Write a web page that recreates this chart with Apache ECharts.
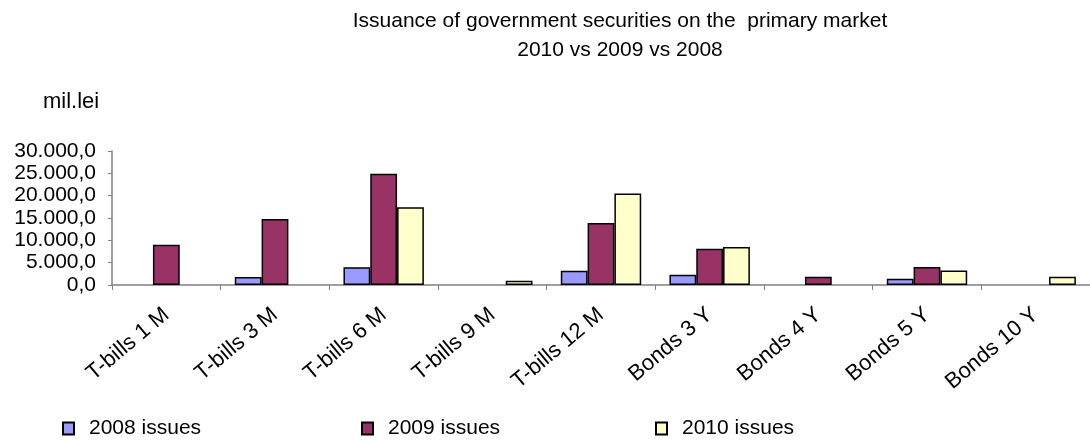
<!DOCTYPE html>
<html>
<head>
<meta charset="utf-8">
<script src="https://cdn.jsdelivr.net/npm/echarts@6/dist/echarts.min.js"></script>
<style>
  html, body { margin: 0; padding: 0; background: #fff; }
  #chart { width: 1090px; height: 441px; }
</style>
</head>
<body>
<div id="chart"></div>
<script>
var categories = ['T-bills 1 M', 'T-bills 3 M', 'T-bills 6 M', 'T-bills 9 M', 'T-bills 12 M',
                  'Bonds 3 Y', 'Bonds 4 Y', 'Bonds 5 Y', 'Bonds 10 Y'];
var issues2008 = [null, 1800, 4000, null, 3200, 2300, null, 1400, null];
var issues2009 = [9000, 14800, 24900, null, 13900, 8100, 1850, 4050, null];
var issues2010 = [null, null, 17400, 950, 20500, 8500, null, 3250, 1850];
var seriesNames = ['2008 issues', '2009 issues', '2010 issues'];
var seriesColors = ['#9999FF', '#993366', '#FFFFCC'];

var FONT = '"Liberation Sans", Arial, sans-serif';

// 30000 -> "30.000,0"
function roFormat(v) {
  var s = String(Math.round(v)).replace(/\B(?=(\d{3})+(?!\d))/g, '.');
  return s + ',0';
}

var chart = echarts.init(document.getElementById('chart'));

function barSeries(i, data) {
  return {
    name: seriesNames[i],
    type: 'bar',
    data: data,
    barGap: 0,
    barCategoryGap: '26%',
    itemStyle: {
      color: seriesColors[i],
      borderColor: '#000',
      borderWidth: 1.5
    }
  };
}

function legendAt(i, left) {
  return {
    data: [seriesNames[i]],
    left: left,
    top: 418,
    icon: 'rect',
    itemWidth: 11,
    itemHeight: 12,
    padding: 0,
    textStyle: { fontFamily: FONT, fontSize: 21, color: '#000', padding: [0, 0, 0, 10] }
  };
}

var option = {
  animation: false,
  backgroundColor: '#fff',
  title: [{
    text: 'Issuance of government securities on the  primary market\n2010 vs 2009 vs 2008',
    left: 615,
    top: 2,
    textAlign: 'center',
    textStyle: { fontFamily: FONT, fontSize: 21, fontWeight: 'normal', color: '#000', lineHeight: 29 }
  }, {
    text: 'mil.lei',
    left: 38,
    top: 86,
    textStyle: { fontFamily: FONT, fontSize: 22, fontWeight: 'normal', color: '#000' }
  }],
  legend: [legendAt(0, 62), legendAt(1, 361), legendAt(2, 655)],
  grid: { left: 112, right: -3, top: 151, bottom: 156, containLabel: false },
  xAxis: {
    type: 'category',
    data: categories,
    axisLine: { lineStyle: { color: '#808080', width: 1.5 } },
    axisTick: { show: true, length: 5, lineStyle: { color: '#808080' } },
    axisLabel: {
      interval: 0,
      rotate: 40,
      margin: 27,
      fontFamily: FONT,
      fontSize: 22,
      color: '#000'
    }
  },
  yAxis: {
    type: 'value',
    min: 0,
    max: 30000,
    interval: 5000,
    axisLine: { show: true, lineStyle: { color: '#808080', width: 1.5 } },
    axisTick: { show: true, length: 4, lineStyle: { color: '#808080' } },
    splitLine: { show: false },
    axisLabel: {
      margin: 16,
      fontFamily: FONT,
      fontSize: 21,
      color: '#000',
      formatter: roFormat
    }
  },
  series: [
    barSeries(0, issues2008),
    barSeries(1, issues2009),
    barSeries(2, issues2010)
  ]
};

chart.setOption(option);
</script>
</body>
</html>
